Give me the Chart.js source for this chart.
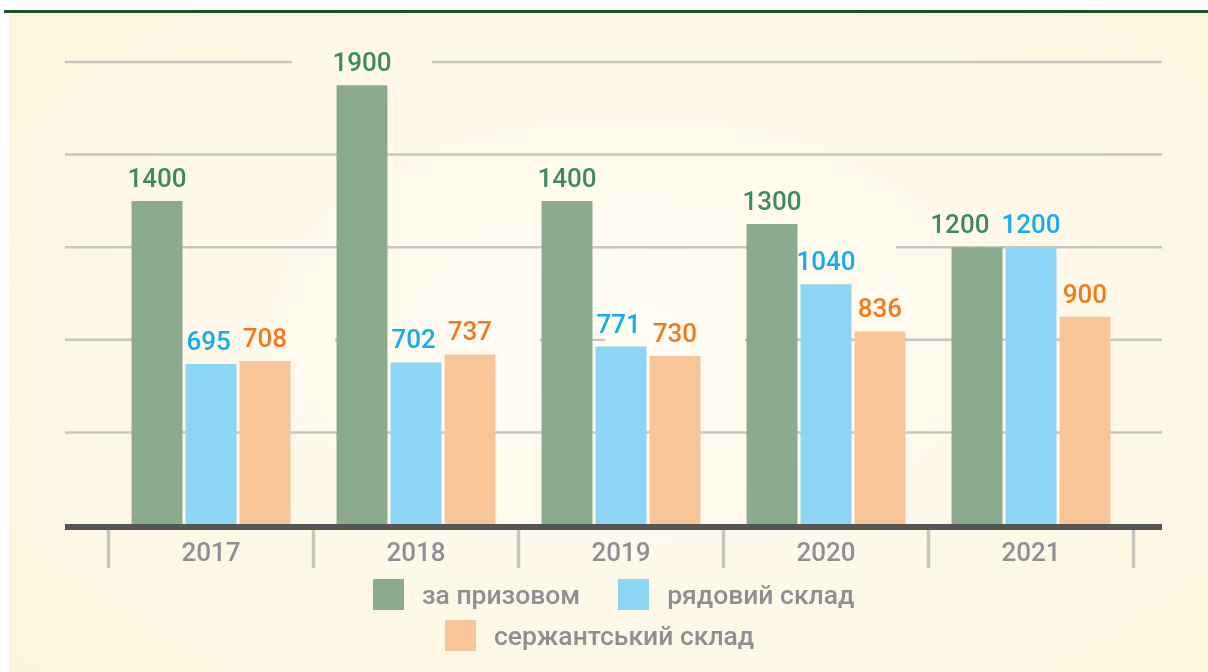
<!DOCTYPE html>
<html>
<head>
<meta charset="utf-8">
<script src="https://cdn.jsdelivr.net/npm/chart.js@4.4.1/dist/chart.umd.min.js"></script>
<style>
  html, body { margin: 0; padding: 0; background: #ffffff; width: 1208px; height: 672px; overflow: hidden; }
  #topline { position: absolute; left: 4px; top: 10px; width: 1204px; height: 3px; background: #1d5229; }
  #bg { position: absolute; left: 9px; top: 13px; width: 1199px; height: 659px;
        background: radial-gradient(ellipse 70% 75% at 52% 48%, #fffcf3 0%, #fef9ec 45%, #fdf4dc 100%); }
  #c { position: absolute; left: 0; top: 0; }
  #legend { position: absolute; left: 373px; top: 579px; font-family: Roboto, sans-serif; font-weight: 500;
            font-size: 26.5px; color: #8f8f93; }
  .row { display: flex; align-items: center; height: 31px; margin-bottom: 10px; }
  .item { display: flex; align-items: center; margin-right: 38px; }
  .box { width: 31px; height: 31px; margin-right: 18px; }
  .lbl { line-height: 31px; white-space: nowrap; }
</style>
</head>
<body>
<div id="topline"></div>
<div id="bg"></div>
<canvas id="c" width="1208" height="672"></canvas>
<div id="legend"></div>
<script>
// ---- data ----
const categories = ['2017', '2018', '2019', '2020', '2021'];
const seriesNames = ['за призовом', 'рядовий склад', 'сержантський склад'];
const conscripted = [1400, 1900, 1400, 1300, 1200];
const privates = [695, 702, 771, 1040, 1200];
const sergeants = [708, 737, 730, 836, 900];
const yTicks = [400, 800, 1200, 1600, 2000];

// ---- styles ----
const barColors = ['#8caa8e', '#8dd5f5', '#f7c598'];
const labelColors = ['#3f8a5b', '#16ace8', '#ee7b22'];
const FONT = 'Roboto, sans-serif';
const LABEL_GAP = 14;

// legend (HTML, built from series names)
(function buildLegend() {
  const lg = document.getElementById('legend');
  const rows = [[0, 1], [2]];
  rows.forEach((r, ri) => {
    const row = document.createElement('div');
    row.className = 'row';
    if (ri === 1) row.style.marginLeft = '72px';
    r.forEach(i => {
      const it = document.createElement('div'); it.className = 'item';
      const b = document.createElement('div'); b.className = 'box'; b.style.background = barColors[i];
      const t = document.createElement('span'); t.className = 'lbl'; t.textContent = seriesNames[i];
      it.appendChild(b); it.appendChild(t); row.appendChild(it);
    });
    lg.appendChild(row);
  });
})();

const GRID_X0 = 65, GRID_X1 = 1162;

// compute label positions with simple collision avoidance (shift left label leftwards)
function labelLayout(chart) {
  const ctx = chart.ctx;
  ctx.save();
  ctx.font = '500 26px ' + FONT;
  const nds = chart.data.datasets.length;
  const out = [];
  for (let di = 0; di < nds; di++) out.push([]);
  for (let i = 0; i < categories.length; i++) {
    const items = [];
    for (let di = 0; di < nds; di++) {
      const bar = chart.getDatasetMeta(di).data[i];
      const txt = String(chart.data.datasets[di].data[i]);
      const w = ctx.measureText(txt).width;
      items.push({ di, txt, w, x: bar.x, y: bar.y - LABEL_GAP });
    }
    for (let k = items.length - 1; k > 0; k--) {
      const a = items[k - 1], b = items[k];
      if (Math.abs(a.y - b.y) < 22) {
        const minDist = a.w / 2 + b.w / 2 + 12;
        if (b.x - a.x < minDist) a.x = b.x - minDist;
      }
    }
    items.forEach(it => out[it.di][i] = it);
  }
  ctx.restore();
  return out;
}

const decorPlugin = {
  id: 'decor',
  beforeDatasetsDraw(chart) {
    const ctx = chart.ctx;
    const ys = chart.scales.y;
    ctx.save();
    ctx.strokeStyle = '#c9c6bf';
    ctx.lineWidth = 2.5;
    yTicks.forEach(v => {
      const y = ys.getPixelForValue(v);
      ctx.beginPath(); ctx.moveTo(GRID_X0, y); ctx.lineTo(GRID_X1, y); ctx.stroke();
    });
    // erase gridlines behind value labels
    ctx.globalCompositeOperation = 'destination-out';
    ctx.fillStyle = '#000';
    const lay = labelLayout(chart);
    lay.forEach(arr => arr.forEach(it => {
      ctx.fillRect(it.x - 70, it.y - 25, 140, 31);
    }));
    ctx.restore();
  },
  afterDatasetsDraw(chart) {
    const ctx = chart.ctx;
    const ys = chart.scales.y, xs = chart.scales.x;
    ctx.save();
    // value labels
    const lay = labelLayout(chart);
    ctx.font = '500 26px ' + FONT;
    ctx.textAlign = 'center';
    ctx.textBaseline = 'alphabetic';
    lay.forEach((arr, di) => {
      ctx.fillStyle = labelColors[di];
      arr.forEach(it => ctx.fillText(it.txt, it.x, it.y));
    });
    // category dividers
    const y0 = ys.getPixelForValue(0);
    const n = categories.length;
    const step = (xs.right - xs.left) / n;
    ctx.strokeStyle = '#c9c6bf';
    ctx.lineWidth = 3.5;
    for (let i = 0; i <= n; i++) {
      const x = i === 0 ? xs.getPixelForValue(0) - step / 2 : xs.getPixelForValue(i - 1) + step / 2;
      ctx.beginPath(); ctx.moveTo(x, y0 + 4); ctx.lineTo(x, y0 + 43); ctx.stroke();
    }
    // axis line
    ctx.fillStyle = '#555555';
    ctx.fillRect(GRID_X0, y0 - 1, GRID_X1 - GRID_X0, 6);
    ctx.restore();
  }
};

function draw() {
  new Chart(document.getElementById('c'), {
    type: 'bar',
    data: {
      labels: categories,
      datasets: [
        { label: seriesNames[0], data: conscripted, backgroundColor: barColors[0] },
        { label: seriesNames[1], data: privates, backgroundColor: barColors[1] },
        { label: seriesNames[2], data: sergeants, backgroundColor: barColors[2] }
      ]
    },
    options: {
      responsive: false,
      devicePixelRatio: 1,
      animation: false,
      layout: { padding: { left: 108.5, right: 74.5, top: 62, bottom: 97 } },
      datasets: { bar: { categoryPercentage: 0.790, barPercentage: 0.944, borderWidth: 0 } },
      plugins: { legend: { display: false }, tooltip: { enabled: false } },
      scales: {
        x: {
          grid: { display: false, drawTicks: false },
          border: { display: false },
          ticks: { color: '#8f8f93', font: { family: FONT, size: 26, weight: '500' }, padding: 14 },
          afterFit(scale) { scale.height = 50; }
        },
        y: {
          display: false,
          min: 0, max: 2000,
          ticks: { stepSize: 400 }
        }
      }
    },
    plugins: [decorPlugin]
  });
}

if (document.fonts && document.fonts.load) {
  Promise.all([document.fonts.load('500 26px Roboto'), document.fonts.load('26px Roboto')]).then(draw, draw);
} else { draw(); }
</script>
</body>
</html>
